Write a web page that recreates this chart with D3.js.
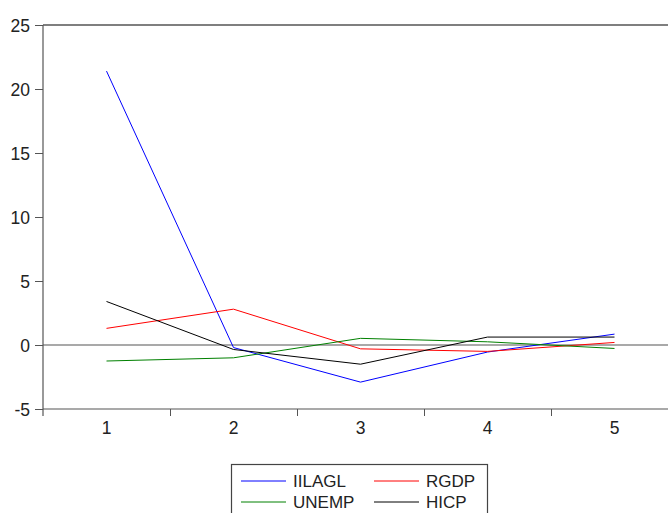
<!DOCTYPE html>
<html>
<head>
<meta charset="utf-8">
<script src="https://cdn.jsdelivr.net/npm/d3@7"></script>
<style>
body{margin:0;background:#fff;}
text{font-family:"Liberation Sans",Arial,sans-serif;}
</style>
</head>
<body>
<script>
var w = 668;
var h = 513;

var periods = [1, 2, 3, 4, 5];
var seriesNames = ["IILAGL", "RGDP", "UNEMP", "HICP"];
var seriesColors = ["#0000ff", "#ff0000", "#008000", "#000000"];
var iilagl = [21.4, -0.2, -2.9, -0.55, 0.85];
var rgdp = [1.3, 2.8, -0.3, -0.5, 0.2];
var unemp = [-1.25, -1.0, 0.52, 0.25, -0.27];
var hicp = [3.4, -0.35, -1.5, 0.62, 0.62];
var yTicks = [-5, 0, 5, 10, 15, 20, 25];

var allSeries = [iilagl, rgdp, unemp, hicp];

var svg = d3.select("body").append("svg")
    .attr("width", w)
    .attr("height", h);

var x = d3.scaleBand()
    .domain(periods)
    .range([43, 678]);

var y = d3.scaleLinear()
    .domain([-5, 25])
    .range([409, 25]);

// top frame line
svg.append("line")
    .attr("x1", 43).attr("x2", w)
    .attr("y1", y(25)).attr("y2", y(25))
    .attr("stroke", "#000").attr("stroke-width", 1.2);

// zero line
svg.append("line")
    .attr("x1", 43).attr("x2", w)
    .attr("y1", y(0)).attr("y2", y(0))
    .attr("stroke", "#555").attr("stroke-width", 1.2);

// y axis
var yAxis = svg.append("g")
    .attr("transform", "translate(43,0)")
    .call(d3.axisLeft(y).tickValues(yTicks).tickSize(8).tickSizeOuter(0)
        .tickFormat(function(d){ return String(d); }));
yAxis.select(".domain").remove();
yAxis.append("line")
    .attr("x1", 0).attr("x2", 0)
    .attr("y1", y(25)).attr("y2", 416)
    .attr("stroke", "#555").attr("stroke-width", 1.2);
yAxis.selectAll(".tick line").attr("stroke", "#555");
yAxis.selectAll(".tick text")
    .attr("x", -13)
    .attr("dy", "0.36em")
    .style("font-size", "17.5px")
    .attr("fill", "#222");

// x axis: ticks at band boundaries, labels at centres
var xg = svg.append("g");
xg.append("line")
    .attr("x1", 43).attr("x2", w)
    .attr("y1", y(-5)).attr("y2", y(-5))
    .attr("stroke", "#555").attr("stroke-width", 1.2);
xg.selectAll("line.tk")
    .data(periods.slice(1))
    .enter().append("line")
    .attr("class", "tk")
    .attr("x1", function(d){ return Math.round(x(d)) + 0.5; })
    .attr("x2", function(d){ return Math.round(x(d)) + 0.5; })
    .attr("y1", y(-5)).attr("y2", y(-5) + 7)
    .attr("stroke", "#555");
xg.selectAll("text")
    .data(periods)
    .enter().append("text")
    .attr("x", function(d){ return x(d) + x.bandwidth() / 2; })
    .attr("y", 434)
    .attr("text-anchor", "middle")
    .style("font-size", "17.5px")
    .attr("fill", "#222")
    .text(function(d){ return d; });

// lines
var line = d3.line()
    .x(function(d, i){ return x(periods[i]) + x.bandwidth() / 2; })
    .y(function(d){ return y(d); });

svg.selectAll("path.series")
    .data(allSeries)
    .enter().append("path")
    .attr("class", "series")
    .attr("d", line)
    .attr("fill", "none")
    .attr("stroke", function(d, i){ return seriesColors[i]; })
    .attr("stroke-width", 1);

// legend
var legend = svg.append("g");
legend.append("rect")
    .attr("x", 231.5).attr("y", 464.5)
    .attr("width", 256).attr("height", 60)
    .attr("fill", "#fff")
    .attr("stroke", "#444").attr("stroke-width", 1.2);

var item = legend.selectAll("g.item")
    .data(seriesNames)
    .enter().append("g")
    .attr("class", "item")
    .attr("transform", function(d, i){
        return "translate(" + (i % 2 === 0 ? 241 : 374) + "," + (i < 2 ? 481 : 502) + ")";
    });
item.append("line")
    .attr("x1", 0).attr("x2", 45)
    .attr("stroke", function(d, i){ return seriesColors[i]; });
item.append("text")
    .attr("x", 52)
    .attr("dy", "0.36em")
    .style("font-size", "17px")
    .attr("fill", "#222")
    .text(function(d){ return d; });
</script>
</body>
</html>
